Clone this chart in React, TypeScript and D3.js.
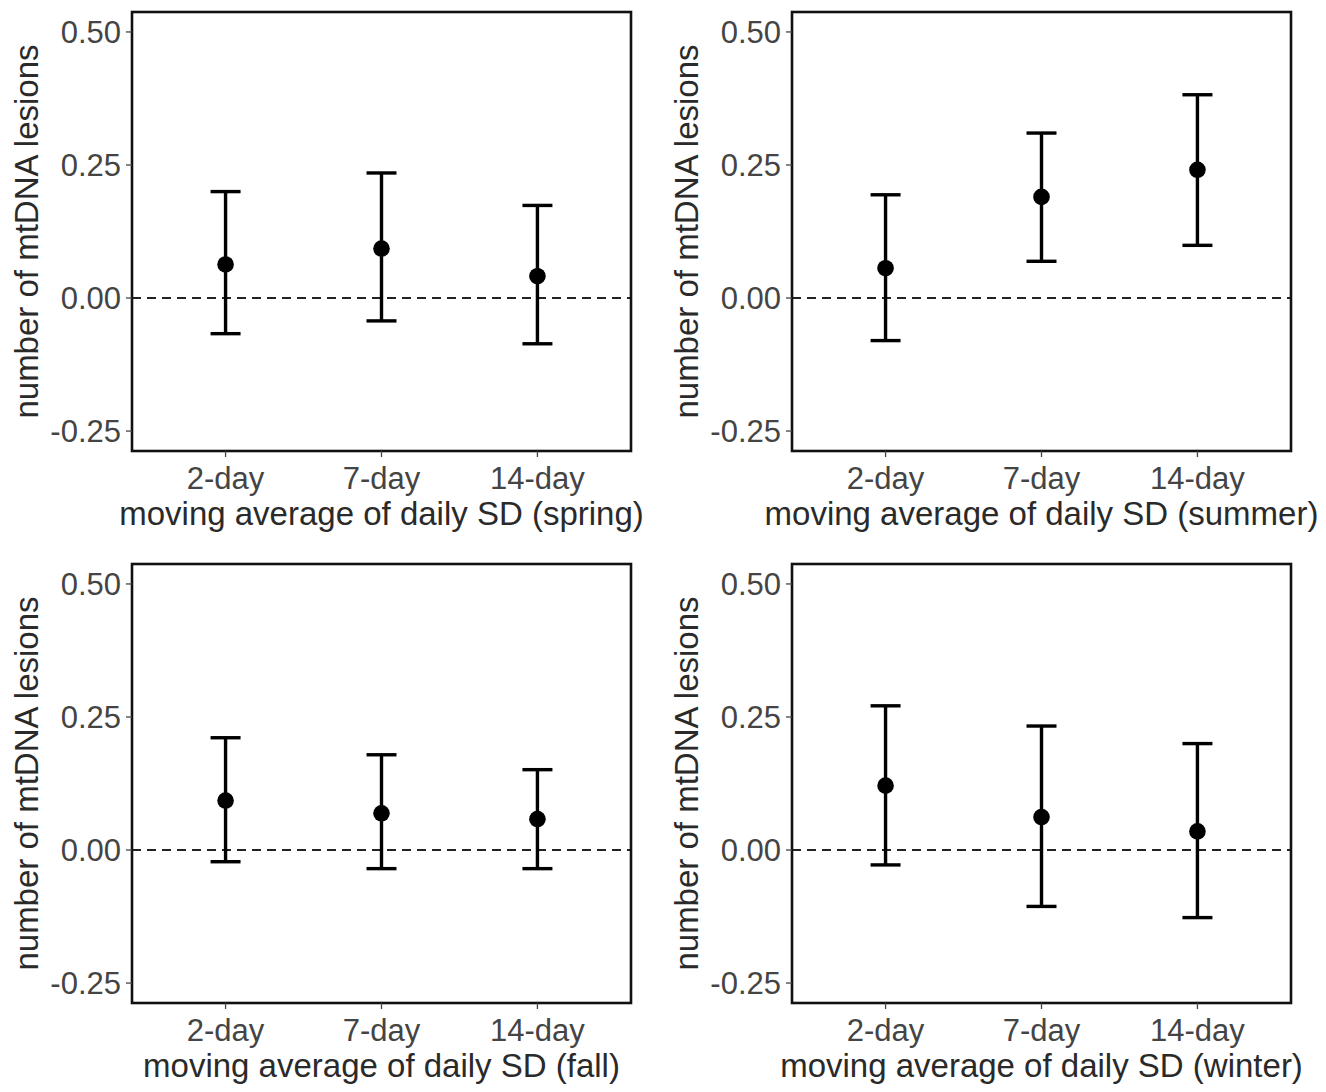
import React from "react";
import * as d3 from "d3";

const categories = ["2-day", "7-day", "14-day"];
const seasons = ["spring", "summer", "fall", "winter"];

const springEst = [0.063, 0.093, 0.041];
const springLo = [-0.067, -0.043, -0.086];
const springHi = [0.2, 0.235, 0.174];

const summerEst = [0.056, 0.19, 0.241];
const summerLo = [-0.08, 0.069, 0.099];
const summerHi = [0.194, 0.31, 0.382];

const fallEst = [0.093, 0.069, 0.058];
const fallLo = [-0.022, -0.035, -0.035];
const fallHi = [0.211, 0.179, 0.151];

const winterEst = [0.121, 0.062, 0.035];
const winterLo = [-0.028, -0.106, -0.127];
const winterHi = [0.271, 0.233, 0.2];

const yTicks = [-0.25, 0, 0.25, 0.5];
const yTickLabels = ["-0.25", "0.00", "0.25", "0.50"];

const seriesEst = [springEst, summerEst, fallEst, winterEst];
const seriesLo = [springLo, summerLo, fallLo, winterLo];
const seriesHi = [springHi, summerHi, fallHi, winterHi];

const W = 499;
const H = 439;
const lefts = [132, 792];
const tops = [12, 564];
const FONT = "'Liberation Sans', Arial, sans-serif";

function Panel({ idx }: { idx: number }) {
  const px = lefts[idx % 2];
  const py = tops[Math.floor(idx / 2)];
  const x = d3.scaleLinear().domain([0.4, 3.6]).range([0, W]);
  const y = d3.scaleLinear().domain([-0.2875, 0.5375]).range([H, 0]);
  const est = seriesEst[idx];
  const lo = seriesLo[idx];
  const hi = seriesHi[idx];
  const capHalf = 15;
  return (
    <g transform={`translate(${px},${py})`}>
      <line x1={0} x2={W} y1={y(0)} y2={y(0)} stroke="#222" strokeWidth={2} strokeDasharray="9,6" />
      {categories.map((c, i) => {
        const cx = x(i + 1);
        return (
          <g key={c}>
            <line x1={cx} x2={cx} y1={y(hi[i])} y2={y(lo[i])} stroke="#000" strokeWidth={3.4} />
            <line x1={cx - capHalf} x2={cx + capHalf} y1={y(hi[i])} y2={y(hi[i])} stroke="#000" strokeWidth={3.4} />
            <line x1={cx - capHalf} x2={cx + capHalf} y1={y(lo[i])} y2={y(lo[i])} stroke="#000" strokeWidth={3.4} />
            <circle cx={cx} cy={y(est[i])} r={8.3} fill="#000" />
          </g>
        );
      })}
      <rect x={0} y={0} width={W} height={H} fill="none" stroke="#111" strokeWidth={2.6} />
      {yTicks.map((t, i) => (
        <g key={t}>
          <line x1={-6} x2={0} y1={y(t)} y2={y(t)} stroke="#444" strokeWidth={1.3} />
          <text x={-11} y={y(t)} dy="0.36em" textAnchor="end" fontSize={31} fill="#444" fontFamily={FONT}>
            {yTickLabels[i]}
          </text>
        </g>
      ))}
      {categories.map((c, i) => (
        <g key={c}>
          <line x1={x(i + 1)} x2={x(i + 1)} y1={H} y2={H + 6} stroke="#444" strokeWidth={1.3} />
          <text x={x(i + 1)} y={H + 38} textAnchor="middle" fontSize={31} fill="#444" fontFamily={FONT}>
            {c}
          </text>
        </g>
      ))}
      <text x={W / 2} y={H + 74} textAnchor="middle" fontSize={33} fill="#2a2a2a" fontFamily={FONT}>
        {`moving average of daily SD (${seasons[idx]})`}
      </text>
      <text
        transform={`translate(${-106},${H / 2}) rotate(-90)`}
        textAnchor="middle"
        dy="0.36em"
        fontSize={33}
        fill="#2a2a2a"
        fontFamily={FONT}
      >
        number of mtDNA lesions
      </text>
    </g>
  );
}

export default function App() {
  return (
    <div style={{ position: "absolute", left: 0, top: 0, width: 1326, height: 1092, background: "#fff", overflow: "hidden" }}>
      <svg width={1326} height={1092} style={{ display: "block" }}>
        <rect width={1326} height={1092} fill="#fff" />
        {seasons.map((s, i) => (
          <Panel key={s} idx={i} />
        ))}
      </svg>
    </div>
  );
}
